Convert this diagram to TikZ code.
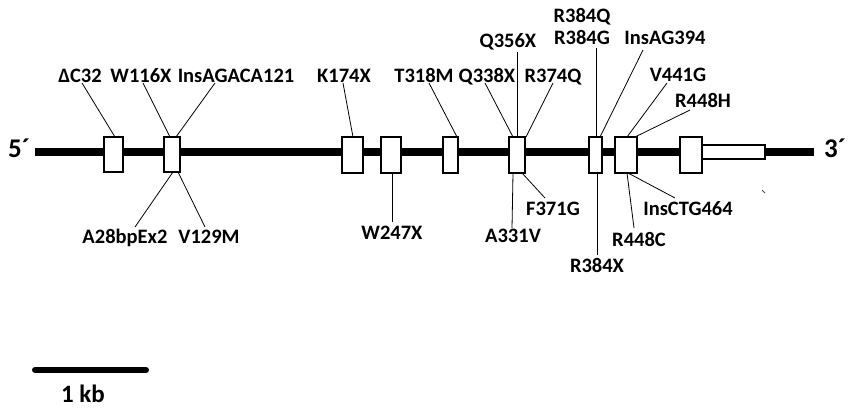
\documentclass[tikz,border=0pt]{standalone}
\usepackage{fontspec}
\setmainfont{Carlito}
\begin{document}
\begin{tikzpicture}[x=1pt,y=-1pt,
  exon/.style={draw=black,line width=1.1pt,fill=white,inner sep=0pt,outer sep=0pt},
  lab/.style={anchor=base,inner sep=0pt,font=\fontsize{20.5}{24}\selectfont\bfseries},
  endlab/.style={anchor=base,inner sep=0pt,font=\fontsize{27}{30}\selectfont\bfseries},
  conn/.style={line width=0.8pt,black}]
\useasboundingbox (0,0) rectangle (850,410);
\fill[white] (0,0) rectangle (850,410);
% main line
\coordinate (s5) at (35,152);
\coordinate (s3) at (814,152);
\draw[line width=8pt] (s5) -- (s3);
\node[endlab] (p5) at (19,157) {5´};
\node[endlab] (p3) at (835,157) {3´};
% exons
\node[exon,minimum width=19pt,minimum height=35pt] (b1) at (113.5,154.5) {};
\node[exon,minimum width=16pt,minimum height=35pt] (b2) at (172,154.5) {};
\node[exon,minimum width=21pt,minimum height=36pt] (b3) at (352.5,155) {};
\node[exon,minimum width=20pt,minimum height=36pt] (b4) at (391,155) {};
\node[exon,minimum width=15pt,minimum height=36pt] (b5) at (450.5,155) {};
\node[exon,minimum width=16pt,minimum height=36pt] (b6) at (517,155) {};
\node[exon,minimum width=13pt,minimum height=36pt] (b7) at (595.5,155) {};
\node[exon,minimum width=22pt,minimum height=36pt] (b8) at (626,155) {};
\node[exon,minimum width=22pt,minimum height=36pt] (b9) at (691,155) {};
\node[exon,minimum width=63pt,minimum height=14pt,anchor=west] (utr) at (b9.east |- 0,152) {};
% labels top
\node[lab] (lDC) at (80,82) {ΔC32};
\node[lab] (lW116) at (141,82) {W116X};
\node[lab] (lIns121) at (236,82) {InsAGACA121};
\node[lab] (lK174) at (344,82) {K174X};
\node[lab] (lT318) at (424,82) {T318M};
\node[lab] (lQ338) at (487,82) {Q338X};
\node[lab] (lQ356) at (508,47) {Q356X};
\node[lab] (lR374) at (553,82) {R374Q};
\node[lab] (lR384Q) at (582,22) {R384Q};
\node[lab] (lR384G) at (582,44) {R384G};
\node[lab] (lIns394) at (665,44) {InsAG394};
\node[lab] (lV441) at (678,81) {V441G};
\node[lab] (lR448H) at (703,107) {R448H};
% labels bottom
\node[lab] (lA28) at (125,243) {A28bpEx2};
\node[lab] (lV129) at (209,243) {V129M};
\node[lab] (lW247) at (392,239) {W247X};
\node[lab] (lA331) at (513,242) {A331V};
\node[lab] (lF371) at (553,215) {F371G};
\node[lab] (lR384X) at (597,272) {R384X};
\node[lab] (lR448C) at (639,246) {R448C};
\node[lab] (lIns464) at (688,215) {InsCTG464};
% connector ends
\coordinate (tDC) at (82,83);   \coordinate (eDC) at (115,137);
\coordinate (tW116) at (143,83); \coordinate (eW116) at (170,137);
\coordinate (tIns121) at (215,83); \coordinate (eIns121) at (176,137);
\coordinate (tA28) at (135,227); \coordinate (eA28) at (173,172);
\coordinate (tV129) at (205,227); \coordinate (eV129) at (178,172);
\coordinate (tK174) at (343,83); \coordinate (eK174) at (353,137);
\coordinate (tT318) at (429,83); \coordinate (eT318) at (457,137);
\coordinate (tQ338) at (485,83); \coordinate (eQ338) at (513,137);
\coordinate (tQ356) at (517,52); \coordinate (eQ356) at (517,137);
\coordinate (tR374) at (553,83); \coordinate (eR374) at (526,137);
\coordinate (tW247) at (392,222); \coordinate (eW247) at (392,173);
\coordinate (tA331) at (512,228); \coordinate (eA331) at (513,173);
\coordinate (tF371) at (545,198); \coordinate (eF371) at (522,173);
\coordinate (tR384G) at (596,48); \coordinate (eR384G) at (596,137);
\coordinate (tIns394) at (643,50); \coordinate (eIns394) at (600,137);
\coordinate (tV441) at (667,83); \coordinate (eV441) at (627,137);
\coordinate (tR448H) at (690,110); \coordinate (eR448H) at (635,137);
\coordinate (tIns464) at (675,198); \coordinate (eIns464) at (628,173);
\coordinate (tR448C) at (634,228); \coordinate (eR448C) at (627,173);
\coordinate (tR384X) at (597,255); \coordinate (eR384X) at (597,173);
\foreach \n in {DC,W116,Ins121,A28,V129,K174,T318,Q338,Q356,R374,W247,A331,F371,R384G,Ins394,V441,R448H,Ins464,R448C,R384X}
  \draw[conn] (t\n) -- (e\n);
% speck
\coordinate (sp1) at (762,190); \coordinate (sp2) at (765,193);
\draw[line width=0.8pt,black!70] (sp1) -- (sp2);
% scale bar
\coordinate (sb1) at (35,370); \coordinate (sb2) at (146,370);
\draw[line width=6pt,line cap=round] (sb1) -- (sb2);
\node[lab,font=\fontsize{25}{28}\selectfont\bfseries] (lkb) at (83,402) {1 kb};
\end{tikzpicture}
\end{document}
